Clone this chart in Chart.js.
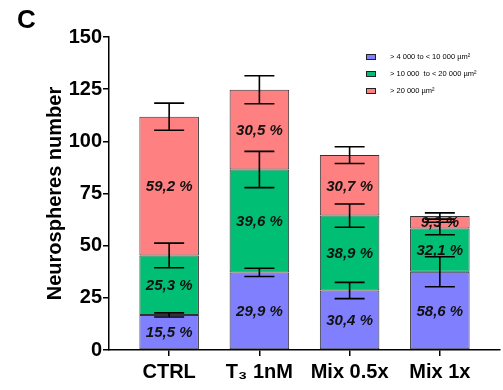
<!DOCTYPE html>
<html>
<head>
<meta charset="utf-8">
<script src="https://cdn.jsdelivr.net/npm/chart.js@4/dist/chart.umd.min.js"></script>
<style>
  html, body { margin: 0; padding: 0; background: #ffffff; }
  #wrap { width: 503px; height: 390px; }
</style>
</head>
<body>
<div id="wrap"><canvas id="c" width="503" height="390"></canvas></div>
<script>
// ---- Data ----
const categories = ['CTRL', 'T\u2083 1nM', 'Mix 0.5x', 'Mix 1x'];
const seriesNames = ['> 4 000 to < 10 000 \u00b5m\u00b2', '> 10 000  to < 20 000 \u00b5m\u00b2', '> 20 000 \u00b5m\u00b2'];
// stacked segment heights (neurospheres number)
const smallValues  = [16.8, 37.2, 28.5, 37.5];
const mediumValues = [28.5, 49.3, 35.9, 20.7];
const largeValues  = [66.5, 38.2, 29.0, 6.0];
// error bar half-lengths (at the top of each segment)
const smallErrors  = [1.0, 2.0, 3.9, 7.2];
const mediumErrors = [5.9, 8.7, 5.6, 3.0];
const largeErrors  = [6.5, 6.7, 4.0, 1.5];
// percentage labels printed inside segments
const smallPct  = ['15,5 %', '29,9 %', '30,4 %', '58,6 %'];
const mediumPct = ['25,3 %', '39,6 %', '38,9 %', '32,1 %'];
const largePct  = ['59,2 %', '30,5 %', '30,7 %', '9,3 %'];
const yTicks = [0, 25, 50, 75, 100, 125, 150];
const panelLetter = 'C';
const yTitle = 'Neurospheres number';

const colors = ['#8080FF', '#00BF74', '#FF8080'];
const allValues = [smallValues, mediumValues, largeValues];
const allErrors = [smallErrors, mediumErrors, largeErrors];
const allPct = [smallPct, mediumPct, largePct];

const FONT = "'Liberation Sans', Arial, sans-serif";

const datasets = allValues.map((vals, d) => ({
  label: seriesNames[d],
  data: vals.map((v, i) => ({ x: i, y: v })),
  backgroundColor: colors[d],
  borderColor: '#333333',
  borderWidth: 1,
  borderSkipped: false,
  barPercentage: 1,
  categoryPercentage: 0.66
}));

const errorBarPlugin = {
  id: 'errorBars',
  afterDatasetsDraw(chart) {
    const ctx = chart.ctx;
    const ys = chart.scales.y;
    ctx.save();
    ctx.strokeStyle = '#000';
    ctx.lineWidth = 1.6;
    for (let d = 0; d < allValues.length; d++) {
      const meta = chart.getDatasetMeta(d);
      meta.data.forEach((el, i) => {
        let top = 0;
        for (let k = 0; k <= d; k++) top += allValues[k][i];
        const e = allErrors[d][i];
        const yHi = ys.getPixelForValue(top + e);
        const yLo = ys.getPixelForValue(top - e);
        const x = el.x;
        const half = 15;
        ctx.beginPath();
        ctx.moveTo(x, yHi); ctx.lineTo(x, yLo);
        ctx.moveTo(x - half, yHi); ctx.lineTo(x + half, yHi);
        ctx.moveTo(x - half, yLo); ctx.lineTo(x + half, yLo);
        ctx.stroke();
      });
    }
    // percentage labels
    ctx.fillStyle = '#111';
    ctx.font = 'italic bold 15px ' + FONT;
    ctx.textAlign = 'center';
    ctx.textBaseline = 'middle';
    for (let d = 0; d < allValues.length; d++) {
      const meta = chart.getDatasetMeta(d);
      meta.data.forEach((el, i) => {
        const yc = (el.y + el.base) / 2 + 1;
        ctx.fillText(allPct[d][i], el.x, yc);
      });
    }
    ctx.restore();
  },
  afterDraw(chart) {
    const ctx = chart.ctx;
    ctx.save();
    // panel letter
    ctx.fillStyle = '#000';
    ctx.font = 'bold 26px ' + FONT;
    ctx.textAlign = 'left';
    ctx.textBaseline = 'alphabetic';
    ctx.fillText(panelLetter, 17, 28);
    // legend
    ctx.font = '7.5px ' + FONT;
    ctx.textBaseline = 'middle';
    const ly = [57, 74, 91];
    for (let d = 0; d < seriesNames.length; d++) {
      ctx.fillStyle = colors[d];
      ctx.fillRect(366, ly[d] - 2.5, 9, 5);
      ctx.strokeStyle = '#222';
      ctx.lineWidth = 1;
      ctx.strokeRect(366.5, ly[d] - 2.5, 9, 5);
      ctx.fillStyle = '#000';
      ctx.fillText(seriesNames[d], 390, ly[d]);
    }
    ctx.restore();
  }
};

new Chart(document.getElementById('c'), {
  type: 'bar',
  data: { datasets },
  options: {
    responsive: false,
    animation: false,
    devicePixelRatio: 1,
    layout: { padding: { left: 0, right: 3, top: 37, bottom: 0 } },
    plugins: { legend: { display: false }, tooltip: { enabled: false } },
    scales: {
      x: {
        type: 'linear',
        stacked: true,
        offset: false,
        bounds: 'ticks',
        min: -0.6667,
        max: 3.6667,
        afterBuildTicks(s) { s.ticks = categories.map((c, i) => ({ value: i })); },
        afterFit(s) { s.height = 40; },
        border: { display: true, color: '#000', width: 1.5 },
        grid: { display: true, drawOnChartArea: false, drawTicks: true, tickLength: 6, color: '#000', lineWidth: 1.5, offset: false },
        ticks: {
          autoSkip: false,
          maxRotation: 0,
          padding: 4,
          color: '#000',
          font: { family: FONT, size: 20, weight: 'bold' },
          callback: (v) => categories[v]
        }
      },
      y: {
        stacked: true,
        min: 0,
        max: 150,
        afterBuildTicks(s) { s.ticks = yTicks.map(v => ({ value: v })); },
        afterFit(s) { s.width = 109; },
        border: { display: true, color: '#000', width: 1.5 },
        grid: { display: true, drawOnChartArea: false, drawTicks: true, tickLength: 6, color: '#000', lineWidth: 1.5 },
        ticks: {
          padding: 1,
          color: '#000',
          font: { family: FONT, size: 20, weight: 'bold' }
        },
        title: {
          display: true,
          text: yTitle,
          color: '#000',
          font: { family: FONT, size: 20, weight: 'bold' },
          padding: { top: 43, bottom: 0 }
        }
      }
    }
  },
  plugins: [errorBarPlugin]
});
</script>
</body>
</html>
